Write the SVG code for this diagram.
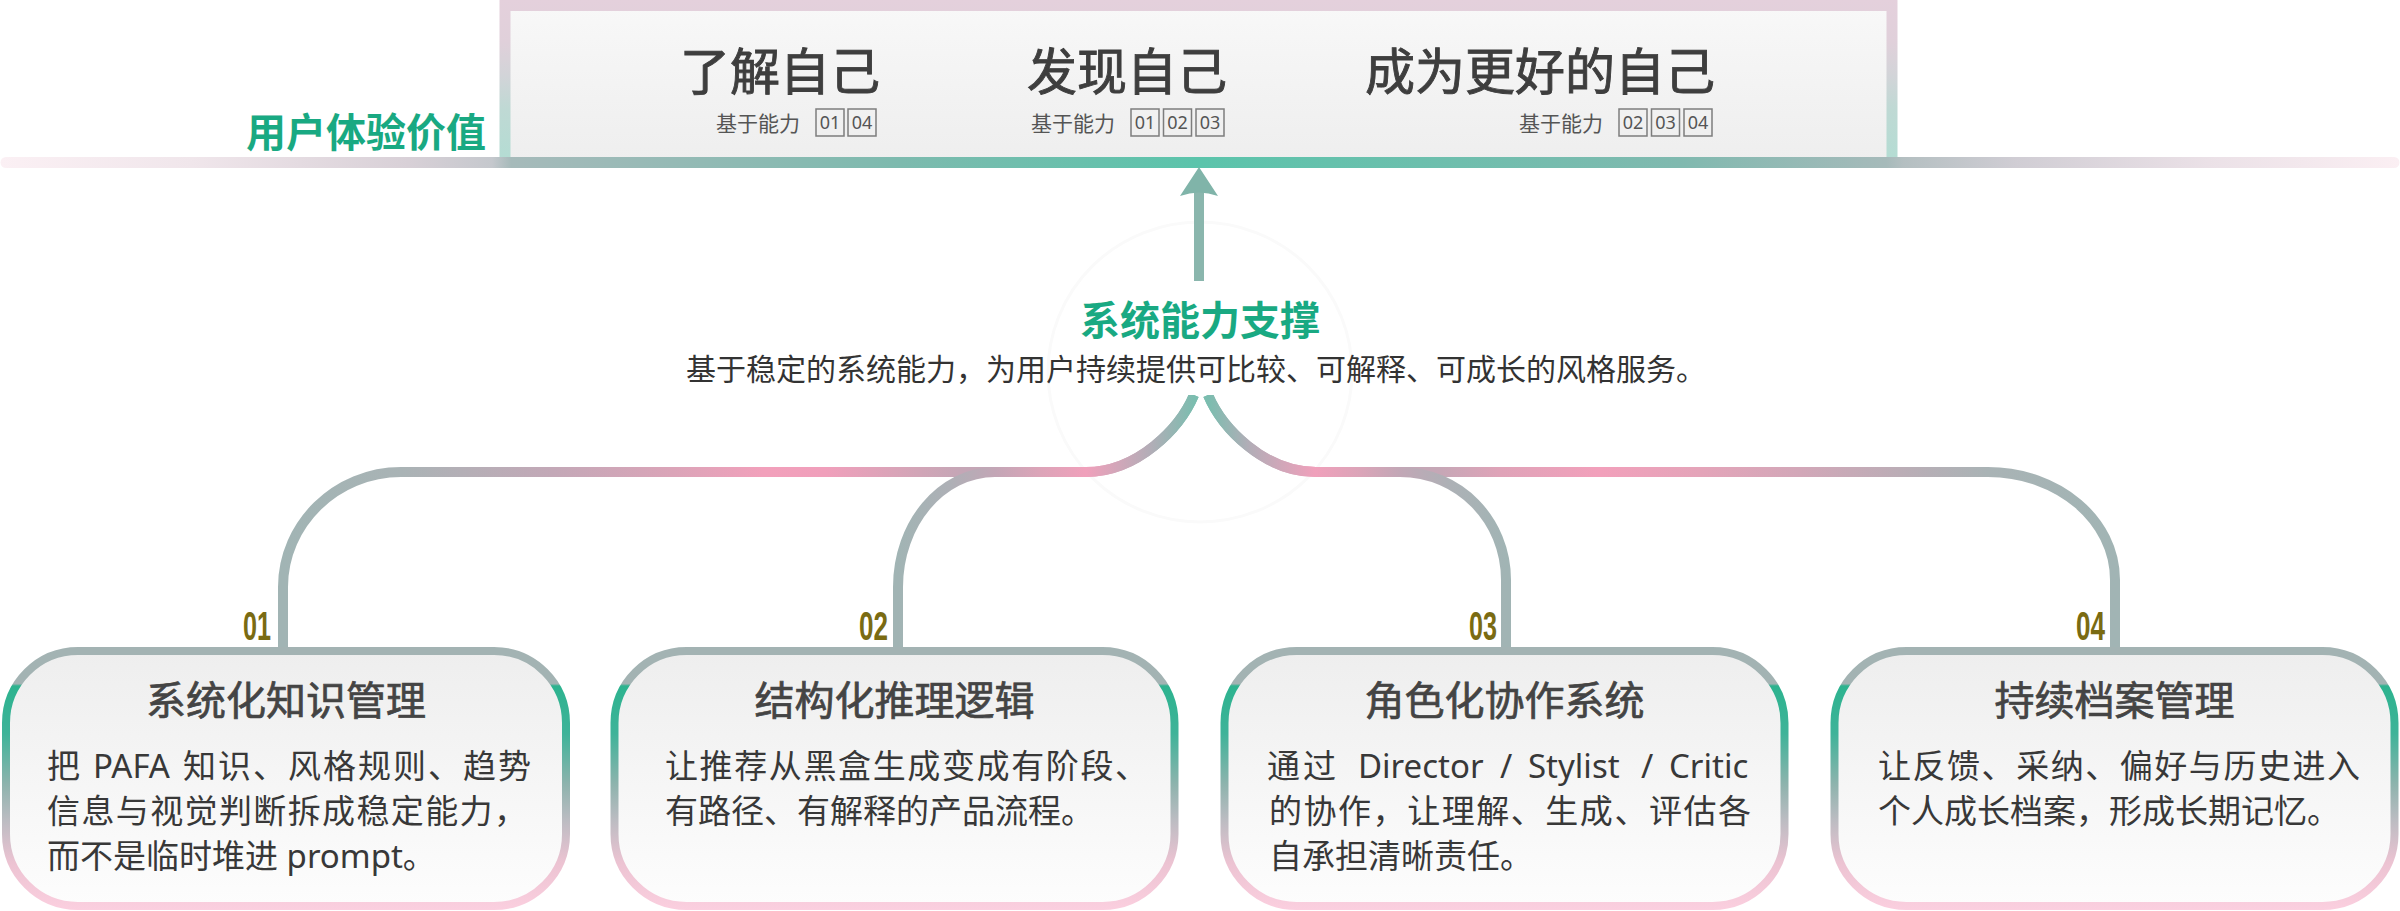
<svg xmlns="http://www.w3.org/2000/svg" width="2400" height="911" viewBox="0 0 2400 911">
<defs>
<style>
.head{font-family:'Noto Sans CJK SC',sans-serif;font-size:50px;fill:#3e3e3e;stroke:#3e3e3e;stroke-width:0.9;text-anchor:end;}
.sub{font-family:'Noto Sans CJK SC',sans-serif;font-size:21px;fill:#555;}
.cap{fill:none;stroke:#7d7d7d;stroke-width:1.5;}
.capt{font-family:'Noto Sans','Noto Sans CJK SC',sans-serif;font-size:18px;fill:#555;text-anchor:middle;}
.green{font-family:'Noto Sans CJK SC',sans-serif;font-size:40px;font-weight:700;fill:#19a982;}
.desc{font-family:'Noto Sans CJK SC',sans-serif;font-size:30px;fill:#333;text-anchor:middle;}
.box{fill:url(#boxFill);stroke:url(#boxStroke);stroke-width:8;}
.bt{font-family:'Noto Sans CJK SC',sans-serif;font-size:40px;fill:#444;stroke:#444;stroke-width:0.7;text-anchor:middle;}
.bd{font-family:'Noto Sans','Noto Sans CJK SC',sans-serif;font-size:33px;fill:#383838;}
.num{font-family:'Liberation Sans Narrow','Liberation Sans',sans-serif;font-size:40px;font-weight:700;fill:#7a6b12;}
.conn{fill:none;stroke-width:10;stroke-linejoin:round;}
</style>
<linearGradient id="barGrad" gradientUnits="userSpaceOnUse" x1="0" y1="0" x2="2400" y2="0">
<stop offset="0" stop-color="#fbf0f4"/>
<stop offset="0.08" stop-color="#f0e6eb"/>
<stop offset="0.17" stop-color="#d8d0d7"/>
<stop offset="0.205" stop-color="#c5c8cd"/>
<stop offset="0.213" stop-color="#a6baba"/>
<stop offset="0.375" stop-color="#7dbaae"/>
<stop offset="0.5" stop-color="#5bc4ab"/>
<stop offset="0.7" stop-color="#80b9af"/>
<stop offset="0.786" stop-color="#a6baba"/>
<stop offset="0.793" stop-color="#b4bfc1"/>
<stop offset="0.84" stop-color="#d0cdd4"/>
<stop offset="0.92" stop-color="#ebe1e7"/>
<stop offset="1" stop-color="#fbeff3"/>
</linearGradient>
<linearGradient id="frameStroke" gradientUnits="userSpaceOnUse" x1="0" y1="0" x2="0" y2="168">
<stop offset="0" stop-color="#e4d0dc"/>
<stop offset="0.25" stop-color="#e0d0da"/>
<stop offset="0.45" stop-color="#d2d4d8"/>
<stop offset="0.65" stop-color="#bfd9d4"/>
<stop offset="1" stop-color="#b2ddd3"/>
</linearGradient>
<linearGradient id="frameFill" x1="0" y1="0" x2="0" y2="1">
<stop offset="0" stop-color="#f8f8f8"/>
<stop offset="1" stop-color="#eeeeee"/>
</linearGradient>
<linearGradient id="boxStroke" gradientUnits="userSpaceOnUse" x1="0" y1="647" x2="0" y2="910">
<stop offset="0" stop-color="#a3b3b3"/>
<stop offset="0.14" stop-color="#a3b3b3"/>
<stop offset="0.148" stop-color="#2db38f"/>
<stop offset="0.33" stop-color="#3fb399"/>
<stop offset="0.52" stop-color="#8db3ad"/>
<stop offset="0.66" stop-color="#bcbcc2"/>
<stop offset="0.82" stop-color="#ecc3d2"/>
<stop offset="1" stop-color="#fbcfdf"/>
</linearGradient>
<linearGradient id="boxFill" x1="0" y1="0" x2="0" y2="1">
<stop offset="0" stop-color="#eeeeee"/>
<stop offset="1" stop-color="#fdfdfd"/>
</linearGradient>
<linearGradient id="g1" gradientUnits="userSpaceOnUse" x1="1194" y1="0" x2="283" y2="0">
<stop offset="0" stop-color="#7bbdaf"/>
<stop offset="0.048" stop-color="#b3adb7"/>
<stop offset="0.119" stop-color="#f0a0bb"/>
<stop offset="0.169" stop-color="#dca4b8"/>
<stop offset="0.218" stop-color="#c3a6b6"/>
<stop offset="0.257" stop-color="#c5a6b6"/>
<stop offset="0.304" stop-color="#d2a5b7"/>
<stop offset="0.404" stop-color="#f09fbb"/>
<stop offset="0.471" stop-color="#f2a0bb"/>
<stop offset="0.571" stop-color="#dba4b8"/>
<stop offset="0.704" stop-color="#c3a8b7"/>
<stop offset="0.804" stop-color="#b4afb6"/>
<stop offset="0.87" stop-color="#a9b3b5"/>
<stop offset="1" stop-color="#a1b4b4"/>
</linearGradient>
<linearGradient id="g2" gradientUnits="userSpaceOnUse" x1="1194" y1="0" x2="898" y2="0">
<stop offset="0" stop-color="#7bbdaf"/>
<stop offset="0.149" stop-color="#b3adb7"/>
<stop offset="0.365" stop-color="#f0a0bb"/>
<stop offset="0.52" stop-color="#dca4b8"/>
<stop offset="0.672" stop-color="#c3a6b6"/>
<stop offset="0.824" stop-color="#aeb0b6"/>
<stop offset="1" stop-color="#a1b4b4"/>
</linearGradient>
<linearGradient id="g3" gradientUnits="userSpaceOnUse" x1="1208" y1="0" x2="1506" y2="0">
<stop offset="0" stop-color="#7bbdaf"/>
<stop offset="0.141" stop-color="#b3adb7"/>
<stop offset="0.359" stop-color="#f0a0bb"/>
<stop offset="0.51" stop-color="#dba4b8"/>
<stop offset="0.644" stop-color="#c2a7b6"/>
<stop offset="0.812" stop-color="#adb1b6"/>
<stop offset="1" stop-color="#a1b4b4"/>
</linearGradient>
<linearGradient id="g4" gradientUnits="userSpaceOnUse" x1="1208" y1="0" x2="2115" y2="0">
<stop offset="0" stop-color="#7bbdaf"/>
<stop offset="0.046" stop-color="#b3adb7"/>
<stop offset="0.118" stop-color="#f0a0bb"/>
<stop offset="0.168" stop-color="#dba4b8"/>
<stop offset="0.212" stop-color="#c2a7b6"/>
<stop offset="0.256" stop-color="#c6a7b6"/>
<stop offset="0.322" stop-color="#dfa3b8"/>
<stop offset="0.432" stop-color="#f2a0bb"/>
<stop offset="0.542" stop-color="#e4a4b9"/>
<stop offset="0.653" stop-color="#d2a7b8"/>
<stop offset="0.763" stop-color="#bbadb6"/>
<stop offset="0.86" stop-color="#a9b3b5"/>
<stop offset="1" stop-color="#a1b4b4"/>
</linearGradient>
</defs>

<rect x="0" y="0" width="2400" height="911" fill="#ffffff"/>

<g id="user-value">
<rect x="505" y="5.5" width="1387" height="157" fill="url(#frameFill)" stroke="url(#frameStroke)" stroke-width="11"/>
<line x1="6" y1="162.5" x2="2394" y2="162.5" stroke="url(#barGrad)" stroke-width="11" stroke-linecap="round"/>
<text class="green" x="486" y="147" text-anchor="end">用户体验价值</text>
</g>

<g id="value-know-self">
<text class="head" x="880" y="90">了解自己</text>
<text class="sub" x="716" y="131">基于能力</text>
<rect class="cap" x="816" y="109" width="28" height="27"/>
<text class="capt" x="830" y="129">01</text>
<rect class="cap" x="848" y="109" width="28" height="27"/>
<text class="capt" x="862" y="129">04</text>
</g>

<g id="value-discover-self">
<text class="head" x="1227" y="90">发现自己</text>
<text class="sub" x="1031" y="131">基于能力</text>
<rect class="cap" x="1131" y="109" width="28" height="27"/>
<text class="capt" x="1145" y="129">01</text>
<rect class="cap" x="1163.5" y="109" width="28" height="27"/>
<text class="capt" x="1177.5" y="129">02</text>
<rect class="cap" x="1196" y="109" width="28" height="27"/>
<text class="capt" x="1210" y="129">03</text>
</g>

<g id="value-better-self">
<text class="head" x="1715" y="90">成为更好的自己</text>
<text class="sub" x="1519" y="131">基于能力</text>
<rect class="cap" x="1619" y="109" width="28" height="27"/>
<text class="capt" x="1633" y="129">02</text>
<rect class="cap" x="1651.5" y="109" width="28" height="27"/>
<text class="capt" x="1665.5" y="129">03</text>
<rect class="cap" x="1684" y="109" width="28" height="27"/>
<text class="capt" x="1698" y="129">04</text>
</g>

<g id="connectors">
<ellipse cx="1200" cy="372" rx="152" ry="150" fill="none" stroke="#fafafa" stroke-width="3"/>
<line x1="1199" y1="282" x2="1199" y2="190" stroke="#8ab6ad" stroke-width="10"/>
<path d="M1199 167 L1218 196 Q1199 189 1180 196 Z" fill="#80b4a9"/>
<path class="conn" stroke="url(#g1)" d="M1194 395 C1180 428 1138 472 1086 472 L401 472 C336 472 283 524 283 587 L283 651"/>
<path class="conn" stroke="url(#g2)" d="M1194 395 C1180 428 1138 472 1086 472 L995 472 C941 472 898 524 898 587 L898 651"/>
<path class="conn" stroke="url(#g4)" d="M1208 395 C1222 428 1264 472 1316 472 L1988 472 C2058 472 2115 520 2115 580 L2115 651"/>
<path class="conn" stroke="url(#g3)" d="M1208 395 C1222 428 1264 472 1316 472 L1400 472 C1459 472 1506 520 1506 580 L1506 651"/>
</g>

<g id="system-capability">
<rect x="1150" y="281" width="100" height="114" fill="#ffffff"/>
<text class="green" x="1200" y="335" text-anchor="middle">系统能力支撑</text>
<text class="desc" x="1196" y="380">基于稳定的系统能力，为用户持续提供可比较、可解释、可成长的风格服务。</text>
</g>

<g id="node-01">
<text class="num" x="243" y="640" textLength="28" lengthAdjust="spacingAndGlyphs">01</text>
<rect class="box" x="6" y="651" width="560" height="255" rx="72" ry="72"/>
<text class="bt" x="286" y="715">系统化知识管理</text>
<text class="bd" x="47" y="778">把</text>
<text class="bd" x="93" y="778">PAFA</text>
<text class="bd" x="183" y="778" textLength="348" lengthAdjust="spacing">知识、风格规则、趋势</text>
<text class="bd" x="47" y="823" textLength="480" lengthAdjust="spacing">信息与视觉判断拆成稳定能力，</text>
<text class="bd" x="47" y="868">而不是临时堆进 prompt。</text>
</g>

<g id="node-02">
<text class="num" x="859" y="640" textLength="29" lengthAdjust="spacingAndGlyphs">02</text>
<rect class="box" x="614.5" y="651" width="560" height="255" rx="72" ry="72"/>
<text class="bt" x="894.5" y="715">结构化推理逻辑</text>
<text class="bd" x="665" y="778" textLength="483" lengthAdjust="spacing">让推荐从黑盒生成变成有阶段、</text>
<text class="bd" x="665" y="823">有路径、有解释的产品流程。</text>
</g>

<g id="node-03">
<text class="num" x="1469" y="640" textLength="28" lengthAdjust="spacingAndGlyphs">03</text>
<rect class="box" x="1224.5" y="651" width="560" height="255" rx="72" ry="72"/>
<text class="bt" x="1504.5" y="715">角色化协作系统</text>
<text class="bd" y="778"><tspan x="1267">通</tspan><tspan x="1303">过</tspan><tspan x="1358">Director</tspan><tspan x="1500">/</tspan><tspan x="1528">Stylist</tspan><tspan x="1641">/</tspan><tspan x="1669">Critic</tspan></text>
<text class="bd" x="1269" y="823" textLength="482" lengthAdjust="spacing">的协作，让理解、生成、评估各</text>
<text class="bd" x="1269" y="868">自承担清晰责任。</text>
</g>

<g id="node-04">
<text class="num" x="2076" y="640" textLength="29" lengthAdjust="spacingAndGlyphs">04</text>
<rect class="box" x="1834.5" y="651" width="560" height="255" rx="72" ry="72"/>
<text class="bt" x="2114.5" y="715">持续档案管理</text>
<text class="bd" x="1878" y="778" textLength="482" lengthAdjust="spacing">让反馈、采纳、偏好与历史进入</text>
<text class="bd" x="1878" y="823">个人成长档案，形成长期记忆。</text>
</g>
</svg>
